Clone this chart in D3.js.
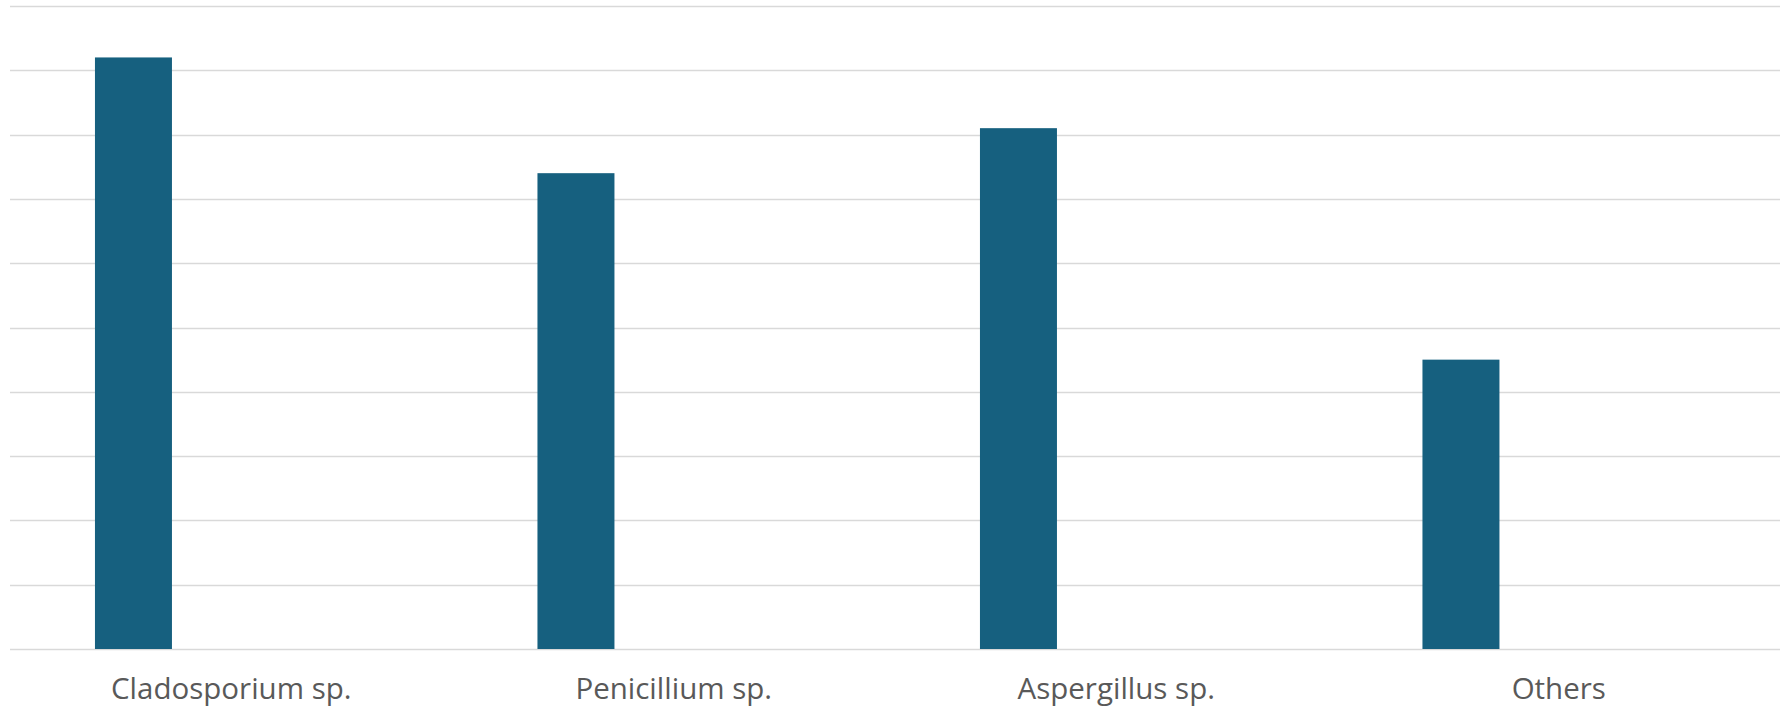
<!DOCTYPE html>
<html>
<head>
<meta charset="utf-8">
<script src="https://cdn.jsdelivr.net/npm/d3@7"></script>
<style>
  html, body { margin: 0; padding: 0; background: #fff; }
  svg { display: block; }
</style>
</head>
<body>
<svg id="chart" width="1786" height="708"></svg>
<script>
const categories = ["Cladosporium sp.", "Penicillium sp.", "Aspergillus sp.", "Others"];
const values = [9.2, 7.4, 8.1, 4.5];
const yTicks = [0, 1, 2, 3, 4, 5, 6, 7, 8, 9, 10];

(function () {
  const svg = d3.select("#chart");
  const mLeft = 10, mRight = 1780, mTop = 6, mBottom = 649;

  const x = d3.scaleBand().domain(categories).range([mLeft, mRight]).padding(0);
  const y = d3.scaleLinear().domain([0, 10]).range([mBottom, mTop]);

  // gridlines
  svg.append("g")
    .selectAll("line")
    .data(yTicks)
    .join("line")
    .attr("x1", mLeft).attr("x2", mRight)
    .attr("y1", d => Math.round(y(d)) + 0.5)
    .attr("y2", d => Math.round(y(d)) + 0.5)
    .attr("stroke", "#d9d9d9")
    .attr("stroke-width", 1.5);

  // bars
  const bw = x.bandwidth();
  svg.append("g")
    .selectAll("rect")
    .data(categories.map((c, i) => ({ c, v: values[i] })))
    .join("rect")
    .attr("x", d => x(d.c) + bw * 0.192)
    .attr("width", bw * 0.174)
    .attr("y", d => y(d.v))
    .attr("height", d => y(0) - y(d.v))
    .attr("fill", "#16607f");

  // category labels
  svg.append("g")
    .selectAll("text")
    .data(categories)
    .join("text")
    .attr("x", d => x(d) + bw / 2)
    .attr("y", 699)
    .attr("text-anchor", "middle")
    .attr("font-family", "'Open Sans', 'Noto Sans', sans-serif")
    .attr("font-size", 29.5)
    .attr("fill", "#595959")
    .text(d => d);
})();
</script>
</body>
</html>
